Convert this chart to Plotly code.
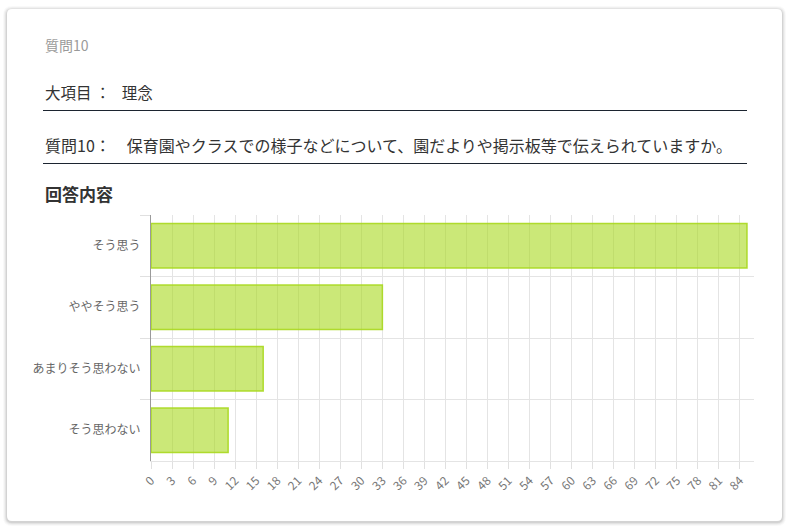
import plotly.graph_objects as go

W, H = 790, 530
L, R, T, B = 151, 36, 215, 69

categories = ["そう思う", "ややそう思う", "あまりそう思わない", "そう思わない"]
counts = [85, 33, 16, 11]
x_ticks = list(range(0, 85, 3))

page_label = "質問10"
item_line = "大項目 ： \u2002理念"
question_line = "質問10：　保育園やクラスでの様子などについて、園だよりや掲示板等で伝えられていますか。"
section_title = "回答内容"

FONT = "Noto Sans CJK JP"


# window pixel -> paper coords (paper = plot area)
def px(x):
    return (x - L) / (W - L - R)


def py(y):
    return (H - B - y) / (H - T - B)


def rounded(x0, y0, x1, y1, r):
    p = "M %f %f " % (px(x0 + r), py(y0))
    p += "L %f %f Q %f %f %f %f " % (px(x1 - r), py(y0), px(x1), py(y0), px(x1), py(y0 + r))
    p += "L %f %f Q %f %f %f %f " % (px(x1), py(y1 - r), px(x1), py(y1), px(x1 - r), py(y1))
    p += "L %f %f Q %f %f %f %f " % (px(x0 + r), py(y1), px(x0), py(y1), px(x0), py(y1 - r))
    p += "L %f %f Q %f %f %f %f Z" % (px(x0), py(y0 + r), px(x0), py(y0), px(x0 + r), py(y0))
    return p


fig = go.Figure()
fig.add_trace(go.Bar(
    x=counts, y=categories, orientation="h",
    marker=dict(color="rgba(168,216,30,0.6)",
                line=dict(color="rgba(168,216,30,0.9)", width=1.5)),
    hoverinfo="x+y",
))

shapes = []
# card + soft shadow
for d, a in [(4, 0.025), (3, 0.035), (2, 0.05), (1, 0.07)]:
    shapes.append(dict(type="path", xref="paper", yref="paper", layer="below",
                       path=rounded(7 - d, 9 - d + 1, 782 + d, 521 + d + 1, 5 + d),
                       line=dict(width=0), fillcolor="rgba(0,0,0,%s)" % a))
shapes.append(dict(type="path", xref="paper", yref="paper", layer="below",
                   path=rounded(7, 9, 782, 521, 5),
                   line=dict(width=0), fillcolor="white"))
# underlines
for yy in (110.5, 163.5):
    shapes.append(dict(type="line", xref="paper", yref="paper",
                       x0=px(43), x1=px(747), y0=py(yy), y1=py(yy),
                       line=dict(color="#1c2430", width=1)))

annotations = [
    dict(text=page_label, x=px(43), y=py(45), font=dict(size=14, color="#9a9a9a")),
    dict(text=item_line, x=px(43), y=py(92), font=dict(size=15.5, color="#333333")),
    dict(text=question_line, x=px(43), y=py(145), font=dict(size=16, color="#333333")),
    dict(text="<b>" + section_title + "</b>", x=px(43), y=py(194), font=dict(size=17, color="#333333")),
]
for a in annotations:
    a.update(xref="paper", yref="paper", xanchor="left", yanchor="middle", showarrow=False)

fig.update_layout(
    width=W, height=H,
    margin=dict(l=L, r=R, t=T, b=B),
    paper_bgcolor="white", plot_bgcolor="rgba(0,0,0,0)",
    font=dict(family=FONT, color="#666666"),
    bargap=0.28,
    showlegend=False,
    shapes=shapes,
    annotations=annotations,
)
fig.update_xaxes(
    range=[0, 86], tickvals=x_ticks, tickangle=-45,
    showgrid=True, gridcolor="#e4e4e4", gridwidth=1,
    ticks="outside", ticklen=7, tickcolor="#e0e0e0",
    tickfont=dict(size=12, color="#777777"),
    showline=True, linecolor="#e4e4e4", zeroline=False, fixedrange=True,
)
fig.update_yaxes(
    type="category", autorange="reversed", tickson="boundaries",
    showgrid=True, gridcolor="#e4e4e4",
    ticks="outside", ticklen=10, tickcolor="#e0e0e0",
    ticklabelstandoff=7,
    tickfont=dict(size=12, color="#666666"),
    showline=True, linecolor="#9a9a9a", fixedrange=True,
)

# drop the page's default body margin so the figure sits at the window corner
fig.write_html("out.html", config={"displayModeBar": False},
               post_script="document.body.style.margin='0';")
